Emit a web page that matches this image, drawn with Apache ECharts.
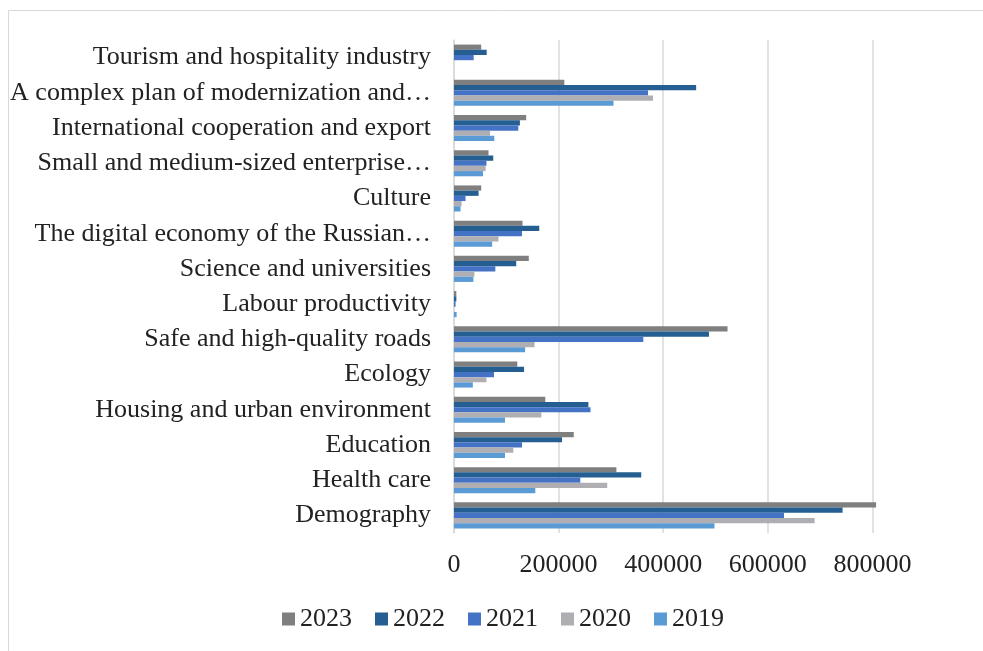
<!DOCTYPE html>
<html>
<head>
<meta charset="utf-8">
<script src="https://cdn.jsdelivr.net/npm/echarts@6/dist/echarts.min.js"></script>
<style>
html,body{margin:0;padding:0;background:#fff;}
#c{width:983px;height:651px;}
</style>
</head>
<body>
<div id="c"></div>
<script>
const categories = ['Demography','Health care','Education','Housing and urban environment','Ecology','Safe and high-quality roads','Labour productivity','Science and universities','The digital economy of the Russian\u2026','Culture','Small and medium-sized enterprise\u2026','International cooperation and export','A complex plan of modernization and\u2026','Tourism and hospitality industry'];
const years = ['2023','2022','2021','2020','2019'];
const v2023 = [807000, 310500, 229000, 174500, 121000, 523000, 4500, 143000, 131000, 52000, 66000, 138000, 211000, 52000];
const v2022 = [743000, 358000, 206500, 257000, 134000, 487500, 4500, 119000, 163000, 47000, 75000, 126000, 463000, 62500];
const v2021 = [631000, 241500, 130000, 261000, 76500, 362000, 3000, 79000, 130000, 22000, 62000, 123000, 371000, 37600];
const v2020 = [689500, 293000, 113500, 167000, 62000, 154000, 0, 39000, 85000, 14500, 60500, 69000, 380500, 0];
const v2019 = [498000, 155500, 97500, 97500, 36000, 136000, 5000, 37000, 73000, 12500, 55500, 77000, 305000, 0];
const xTicks = [0, 200000, 400000, 600000, 800000];

const colors = {'2023':'#7f7f7f','2022':'#255e91','2021':'#4472c4','2020':'#afafb3','2019':'#5b9bd5'};
const valuesByYear = {'2023':v2023,'2022':v2022,'2021':v2021,'2020':v2020,'2019':v2019};
const font = 'Liberation Serif';

const chart = echarts.init(document.getElementById('c'));
chart.setOption({
  animation: false,
  graphic: [{
    type: 'rect', silent: true,
    shape: {x: 8.5, y: 10.5, width: 1000, height: 700},
    style: {fill: 'none', stroke: '#d9d9d9', lineWidth: 1}
  }],
  grid: {left: 454, top: 40, width: 523, height: 493},
  legend: {
    data: years,
    bottom: 14,
    left: 277,
    icon: 'rect',
    itemWidth: 13,
    itemHeight: 13,
    itemGap: 23,
    textStyle: {fontFamily: font, fontSize: 26, color: '#222'}
  },
  xAxis: {
    type: 'value',
    min: xTicks[0],
    max: 1000000,
    interval: xTicks[1] - xTicks[0],
    axisLine: {show: false},
    axisTick: {show: false},
    splitLine: {show: true, showMaxLine: false, lineStyle: {color: '#d9d9d9', width: 1.5}},
    axisLabel: {showMaxLabel: false, fontFamily: font, fontSize: 26, color: '#222', margin: 19,
      formatter: v => String(v)}
  },
  yAxis: {
    type: 'category',
    data: categories,
    axisLine: {show: true, lineStyle: {color: '#d9d9d9', width: 1.5}},
    axisTick: {show: false},
    axisLabel: {fontFamily: font, fontSize: 26, color: '#222', margin: 23}
  },
  series: years.map(y => ({
    name: y,
    type: 'bar',
    data: valuesByYear[y],
    itemStyle: {color: colors[y]},
    barGap: '0%',
    barCategoryGap: '26%'
  }))
});
</script>
</body>
</html>
